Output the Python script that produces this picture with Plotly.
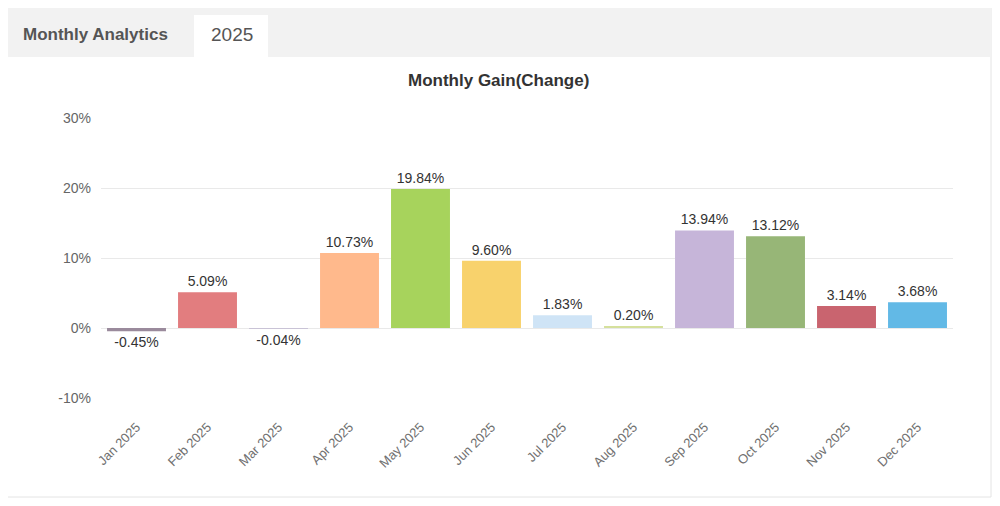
import plotly.graph_objects as go

months = ["Jan 2025", "Feb 2025", "Mar 2025", "Apr 2025", "May 2025", "Jun 2025",
          "Jul 2025", "Aug 2025", "Sep 2025", "Oct 2025", "Nov 2025", "Dec 2025"]
gain = [-0.45, 5.09, -0.04, 10.73, 19.84, 9.60, 1.83, 0.20, 13.94, 13.12, 3.14, 3.68]
bar_colors = ["#9a8a9c", "#e27d7f", "#c9c3d6", "#ffb98c", "#a7d35c", "#f8d26c",
              "#cfe4f6", "#d5e09c", "#c6b5d9", "#97b677", "#c9646f", "#62b9e6"]
y_ticks = [-10, 0, 10, 20, 30]

# page body has an 8px margin, so the figure is drawn from (8, 8)
OFF = 8
W, H = 992, 498
L, R, T, B = 93, 47, 110, 108
FONT = "Arial, Liberation Sans, sans-serif"

def px(x):
    # window pixel -> paper x
    return (x - OFF - L) / (W - L - R)

def py(y):
    # window pixel -> paper y
    return (H - B - (y - OFF)) / (H - T - B)

fig = go.Figure()
fig.add_trace(go.Bar(
    x=months, y=gain,
    marker=dict(color=bar_colors, line=dict(width=0)),
    text=[f"{v:.2f}%" for v in gain],
    textposition="outside",
    textfont=dict(family=FONT, size=14, color="#333333"),
    cliponaxis=False,
    hoverinfo="x+y",
))

# panel frame, tab strip and active tab
shapes = [
    dict(type="rect", xref="paper", yref="paper", x0=px(5), x1=px(991), y0=py(497), y1=py(5),
         line=dict(color="#e4e4e4", width=1), fillcolor="#ffffff", layer="below"),
    dict(type="rect", xref="paper", yref="paper", x0=px(5), x1=px(991), y0=py(57), y1=py(6),
         line=dict(width=0), fillcolor="#f2f2f2", layer="below"),
    dict(type="rect", xref="paper", yref="paper", x0=px(194), x1=px(268), y0=py(59), y1=py(15),
         line=dict(width=0), fillcolor="#ffffff", layer="below"),
]

annotations = [
    dict(text="<b>Monthly Analytics</b>", xref="paper", yref="paper", x=px(21), y=py(35),
         xanchor="left", yanchor="middle", showarrow=False,
         font=dict(family=FONT, size=17, color="#555555")),
    dict(text="2025", xref="paper", yref="paper", x=px(232), y=py(35),
         xanchor="center", yanchor="middle", showarrow=False,
         font=dict(family=FONT, size=19, color="#555555")),
    dict(text="<b>Monthly Gain(Change)</b>", xref="paper", yref="paper", x=px(498), y=py(80),
         xanchor="center", yanchor="middle", showarrow=False,
         font=dict(family=FONT, size=17, color="#333333")),
]

fig.update_layout(
    width=W, height=H,
    margin=dict(l=L, r=R, t=T, b=B),
    paper_bgcolor="#ffffff",
    plot_bgcolor="rgba(0,0,0,0)",
    showlegend=False,
    bargap=0.17,
    shapes=shapes,
    annotations=annotations,
    font=dict(family=FONT, color="#666666"),
)
fig.update_xaxes(
    tickangle=-45, tickfont=dict(size=13, color="#707070"),
    showgrid=False, showline=False, ticks="", ticklabelstandoff=18,
)
fig.update_yaxes(
    range=[-10, 30], tickvals=y_ticks, ticktext=[f"{v}%" for v in y_ticks],
    tickfont=dict(size=14, color="#666666"),
    gridcolor="#e9e9e9", zeroline=True, zerolinecolor="#e9e9e9", zerolinewidth=1,
    showline=False, ticks="", ticklabelstandoff=9,
)

fig.write_html("out.html")
